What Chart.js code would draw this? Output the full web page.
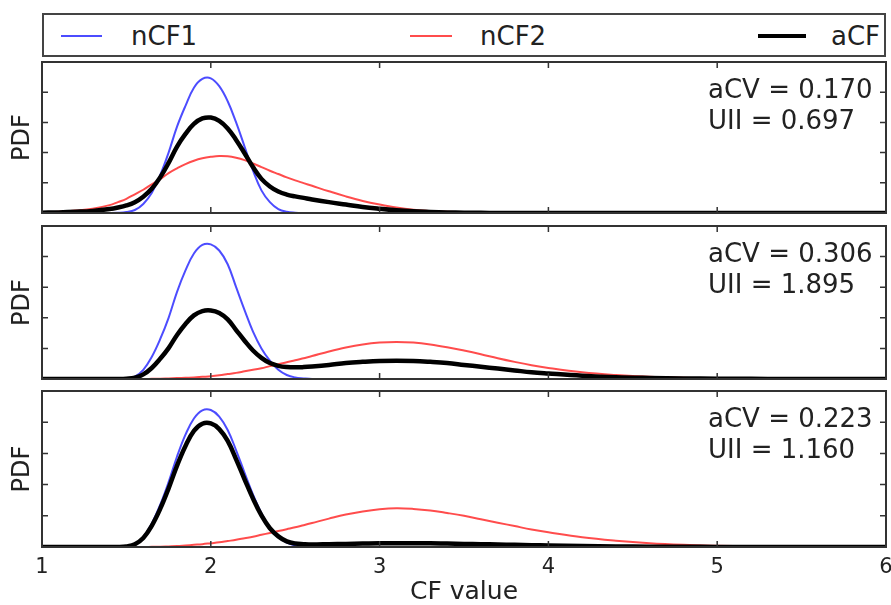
<!DOCTYPE html>
<html>
<head>
<meta charset="utf-8">
<script src="https://cdn.jsdelivr.net/npm/chart.js@4.4.1/dist/chart.umd.min.js"></script>
<style>
  body { margin: 0; background: #fff; width: 891px; height: 605px; overflow: hidden; position: relative;
         font-family: "DejaVu Sans", sans-serif; color: #222; }
  canvas { position: absolute; left: 0; }
  #legend { position: absolute; left: 42px; top: 13px; width: 840px; height: 40px; border: 2px solid #444; }
  .key-line { position: absolute; }
  .key-text { position: absolute; font-size: 26px; line-height: 26px; }
</style>
</head>
<body>
<div id="legend"></div>
<canvas id="panel1" width="891" height="163" style="top:56px"></canvas>
<canvas id="panel2" width="891" height="165" style="top:220px"></canvas>
<canvas id="panel3" width="891" height="220" style="top:385px"></canvas>
<script>
// CF values shared by every curve
const cfGrid = [1.0, 1.1, 1.2, 1.3, 1.4, 1.45, 1.5, 1.55, 1.6, 1.65, 1.7, 1.75, 1.8, 1.85, 1.9, 1.95,
  2.0, 2.05, 2.1, 2.15, 2.2, 2.25, 2.3, 2.35, 2.4, 2.45, 2.5, 2.55, 2.6, 2.7, 2.8, 2.9, 3.0, 3.1,
  3.2, 3.3, 3.4, 3.5, 3.6, 3.7, 3.8, 3.9, 4.0, 4.2, 4.4, 4.6, 4.8, 5.0, 5.2, 5.4, 5.6, 5.8, 6.0];

const seriesNames = ["nCF1", "nCF2", "aCF"];
const xTicks = [1, 2, 3, 4, 5, 6];
const aCV = ["0.170", "0.306", "0.223"];
const UII = ["0.697", "1.895", "1.160"];

// top panel
const nCF1_top = [0, 0, 0, 0, 0,
  0.005, 0.03, 0.1, 0.3, 0.66, 1.25, 2.0, 2.86, 3.55, 4.15, 4.44, 4.46, 4.2, 3.7, 3.0, 2.2, 1.4, 0.75, 0.36, 0.13, 0.04, 0.01, 0, 0,
  0, 0, 0, 0, 0, 0, 0, 0, 0, 0, 0, 0, 0, 0,
  0, 0, 0, 0, 0, 0, 0, 0, 0, 0];
const nCF2_top = [0.02, 0.04, 0.08, 0.14, 0.26,
  0.36, 0.47, 0.62, 0.77, 0.95, 1.12, 1.32, 1.48, 1.62, 1.73, 1.81, 1.86, 1.89, 1.88, 1.83, 1.75, 1.64, 1.52, 1.4, 1.29, 1.18, 1.08, 0.99, 0.9,
  0.72, 0.55, 0.4, 0.28, 0.18, 0.11, 0.07, 0.04, 0.02, 0.01, 0.005, 0, 0, 0,
  0, 0, 0, 0, 0, 0, 0, 0, 0, 0];
const aCF_top = [0.01, 0.02, 0.04, 0.07, 0.13,
  0.18, 0.25, 0.36, 0.54, 0.8, 1.18, 1.66, 2.2, 2.62, 2.95, 3.13, 3.16, 3.05, 2.8, 2.42, 1.98, 1.52, 1.13, 0.88, 0.71, 0.61, 0.55, 0.5, 0.45,
  0.36, 0.28, 0.2, 0.14, 0.09, 0.055, 0.035, 0.02, 0.01, 0.005, 0, 0, 0, 0,
  0, 0, 0, 0, 0, 0, 0, 0, 0, 0];

// middle panel
const nCF1_mid = [0, 0, 0, 0, 0,
  0, 0.02, 0.08, 0.3, 0.72, 1.3, 2.0, 2.85, 3.55, 4.1, 4.38, 4.4, 4.2, 3.75, 3.0, 2.25, 1.55, 1.0, 0.6, 0.3, 0.13, 0.05, 0.02, 0,
  0, 0, 0, 0, 0, 0, 0, 0, 0, 0, 0, 0, 0, 0,
  0, 0, 0, 0, 0, 0, 0, 0, 0, 0];
const nCF2_mid = [0, 0, 0, 0, 0,
  0, 0, 0, 0, 0.005, 0.01, 0.02, 0.03, 0.04, 0.05, 0.07, 0.09, 0.12, 0.16, 0.2, 0.25, 0.3, 0.35, 0.42, 0.48, 0.55, 0.61, 0.68, 0.75,
  0.9, 1.03, 1.13, 1.19, 1.21, 1.19, 1.13, 1.04, 0.93, 0.81, 0.68, 0.56, 0.45, 0.36,
  0.22, 0.13, 0.07, 0.04, 0.02, 0.01, 0.005, 0, 0, 0];
const aCF_mid = [0, 0, 0, 0, 0,
  0, 0.01, 0.04, 0.15, 0.36, 0.66, 1.01, 1.44, 1.8, 2.08, 2.22, 2.24, 2.16, 1.95, 1.6, 1.25, 0.93, 0.69, 0.52, 0.43, 0.39, 0.38, 0.39, 0.41,
  0.46, 0.52, 0.56, 0.59, 0.6, 0.59, 0.56, 0.52, 0.46, 0.4, 0.34, 0.28, 0.22, 0.18,
  0.11, 0.06, 0.035, 0.02, 0.01, 0.005, 0, 0, 0, 0];

// bottom panel
const nCF1_bot = [0, 0, 0, 0, 0,
  0, 0.02, 0.1, 0.32, 0.75, 1.35, 2.08, 2.9, 3.6, 4.12, 4.38, 4.39, 4.18, 3.75, 3.1, 2.38, 1.68, 1.08, 0.62, 0.32, 0.14, 0.05, 0.02, 0,
  0, 0, 0, 0, 0, 0, 0, 0, 0, 0, 0, 0, 0, 0,
  0, 0, 0, 0, 0, 0, 0, 0, 0, 0];
const nCF2_bot = [0, 0, 0, 0, 0,
  0, 0, 0, 0, 0.005, 0.01, 0.02, 0.03, 0.05, 0.07, 0.09, 0.12, 0.15, 0.19, 0.23, 0.28, 0.33, 0.39, 0.45, 0.51, 0.57, 0.63, 0.7, 0.77,
  0.91, 1.04, 1.14, 1.21, 1.24, 1.22, 1.17, 1.09, 1.0, 0.89, 0.78, 0.67, 0.56, 0.47,
  0.31, 0.2, 0.12, 0.07, 0.04, 0.02, 0.01, 0.005, 0, 0];
const aCF_bot = [0, 0, 0, 0, 0,
  0, 0.02, 0.09, 0.29, 0.68, 1.22, 1.88, 2.61, 3.24, 3.72, 3.95, 3.96, 3.78, 3.4, 2.81, 2.17, 1.55, 1.01, 0.6, 0.34, 0.18, 0.11, 0.09, 0.08,
  0.09, 0.1, 0.11, 0.12, 0.12, 0.12, 0.12, 0.11, 0.1, 0.09, 0.08, 0.07, 0.06, 0.05,
  0.03, 0.02, 0.01, 0.01, 0, 0, 0, 0, 0, 0];

const lineColors = ["rgba(0,0,255,0.7)", "rgba(255,0,0,0.7)", "#000"];
const lineWidths = [2, 2, 4.5];

const FONT = "DejaVu Sans";

// legend strip across the top
const legend = document.getElementById("legend");
const keyX = [[17, 58, 87], [366, 408, 436], [714, 762, 787]];
seriesNames.forEach((name, i) => {
  const ln = document.createElement("div");
  ln.className = "key-line";
  ln.style.left = keyX[i][0] + "px";
  ln.style.width = (keyX[i][1] - keyX[i][0]) + "px";
  ln.style.height = lineWidths[i] + "px";
  ln.style.top = (21 - lineWidths[i] / 2) + "px";
  ln.style.background = lineColors[i];
  legend.appendChild(ln);
  const tx = document.createElement("div");
  tx.className = "key-text";
  tx.style.left = keyX[i][2] + "px";
  tx.style.top = "8px";
  tx.textContent = name;
  legend.appendChild(tx);
});

// frame, inward ticks and the stats note
const panelDecor = {
  id: "panelDecor",
  afterDatasetsDraw(chart, args, opts) {
    const { ctx, chartArea: a, scales } = chart;
    ctx.save();
    ctx.strokeStyle = "#333";
    ctx.lineWidth = 1.5;
    ctx.beginPath();
    scales.x.ticks.forEach(t => {
      if (t.value <= scales.x.min || t.value >= scales.x.max) return;
      const px = scales.x.getPixelForValue(t.value);
      ctx.moveTo(px, a.bottom); ctx.lineTo(px, a.bottom - 6);
      ctx.moveTo(px, a.top); ctx.lineTo(px, a.top + 6);
    });
    scales.y.ticks.forEach(t => {
      if (t.value <= scales.y.min || t.value >= scales.y.max) return;
      const py = scales.y.getPixelForValue(t.value);
      ctx.moveTo(a.left, py); ctx.lineTo(a.left + 6, py);
      ctx.moveTo(a.right, py); ctx.lineTo(a.right - 6, py);
    });
    ctx.stroke();
    ctx.lineWidth = 2;
    ctx.strokeRect(a.left, a.top, a.right - a.left, a.bottom - a.top);

    ctx.fillStyle = "#222";
    ctx.font = "26px '" + FONT + "'";
    ctx.textBaseline = "middle";
    ctx.fillText("aCV = " + opts.acv, 708, a.top + 29);
    ctx.fillText("UII = " + opts.uii, 708, a.top + 60);
    ctx.restore();
  }
};

function makePanel(id, idx, curves, withXAxis, pad) {
  const datasets = curves.map((vals, i) => ({
    label: seriesNames[i],
    data: cfGrid.map((x, k) => ({ x: x, y: vals[k] })),
    borderColor: lineColors[i],
    borderWidth: lineWidths[i],
    pointRadius: 0,
    fill: false,
    tension: 0.4,
    order: 2 - i
  }));
  return new Chart(document.getElementById(id), {
    type: "line",
    data: { datasets },
    plugins: [panelDecor],
    options: {
      responsive: false,
      animation: false,
      layout: { padding: pad },
      plugins: {
        legend: { display: false },
        tooltip: { enabled: false },
        panelDecor: { acv: aCV[idx], uii: UII[idx] }
      },
      scales: {
        x: {
          type: "linear",
          min: xTicks[0],
          max: xTicks[xTicks.length - 1],
          display: withXAxis,
          grid: { display: false, drawTicks: false },
          border: { display: false },
          afterBuildTicks: s => { s.ticks = xTicks.map(v => ({ value: v })); },
          afterFit: s => {
            if (withXAxis) s.height = 58;
            // let the end labels hang past the plot edges
            s.paddingLeft = 0;
            s.paddingRight = 0;
          },
          ticks: { autoSkip: false, maxRotation: 0, padding: 8, color: "#222",
                   font: { family: FONT, size: 21 } },
          title: { display: true, text: "CF value", color: "#222",
                   font: { family: FONT, size: 25, lineHeight: 1 }, padding: { top: 0, bottom: 0 } }
        },
        y: {
          min: 0,
          max: 5,
          grid: { display: false, drawTicks: false },
          border: { display: false },
          ticks: { display: false, stepSize: 1 },
          afterFit: s => { s.width = 42; },
          title: { display: true, text: "PDF", color: "#222",
                   font: { family: FONT, size: 24 }, padding: { top: 8, bottom: 0 } }
        }
      }
    }
  });
}

makePanel("panel1", 0, [nCF1_top, nCF2_top, aCF_top], false, { top: 6, bottom: 6, right: 5, left: 0 });
makePanel("panel2", 1, [nCF1_mid, nCF2_mid, aCF_mid], false, { top: 6, bottom: 6, right: 5, left: 0 });
makePanel("panel3", 2, [nCF1_bot, nCF2_bot, aCF_bot], true, { top: 6, bottom: 0, right: 5, left: 0 });
</script>
</body>
</html>
